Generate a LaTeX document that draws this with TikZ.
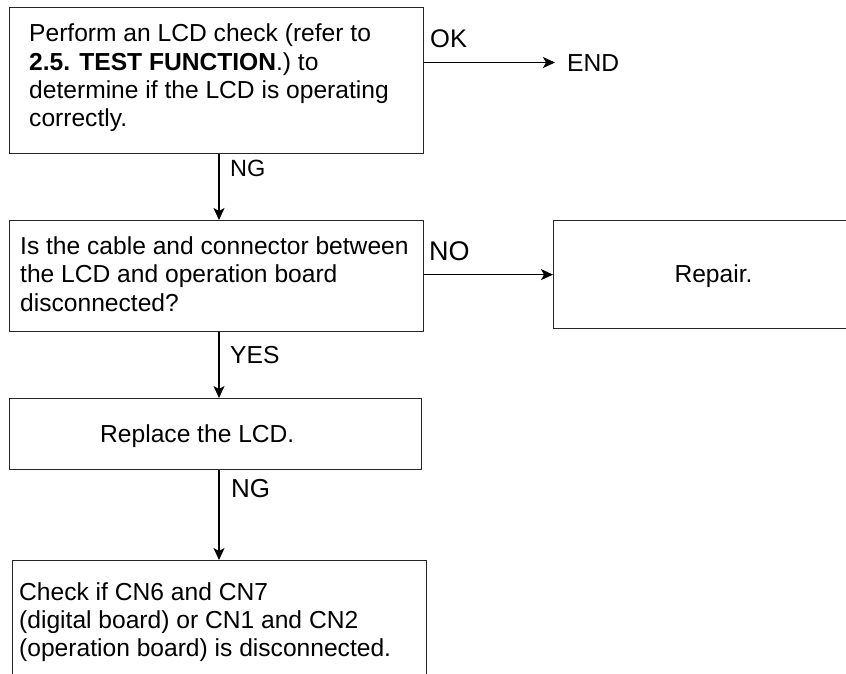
\documentclass[tikz,border=0pt]{standalone}
\usepackage{fontspec}
\setmainfont{Liberation Sans}
\usetikzlibrary{arrows.meta}
\begin{document}
\begin{tikzpicture}[x=1pt,y=-1pt,
  box/.style={draw=black!85,line width=1.2pt,rectangle,inner sep=0pt,anchor=north west},
  txt/.style={font=\fontsize{24.6}{28.3}\selectfont,align=left,inner sep=0pt,anchor=north west},
  lbl/.style={font=\fontsize{24.6}{28.3}\selectfont,inner sep=0pt,anchor=base west},
  flow/.style={line width=1.2pt,-{Stealth[length=12pt,width=11pt,inset=3pt]}}]
\useasboundingbox (0,0) rectangle (846,673);
\clip (0,0) rectangle (846,673);

% process boxes
\node[box,minimum width=414pt,minimum height=146pt] (b1) at (9,7) {};
\node[box,minimum width=414pt,minimum height=111pt] (b2) at (9,220) {};
\node[box,minimum width=412pt,minimum height=71pt] (b3) at (9,398) {};
\node[box,minimum width=414pt,minimum height=160pt] (b4) at (12,560) {};
\node[box,minimum width=321pt,minimum height=108pt] (rep) at (553,220) {};

% box texts
\node[txt] (t1) at (29,23.8) {Perform an LCD check (refer to\\
  \textbf{2.5. TEST FUNCTION}.) to\\
  determine if the LCD is operating\\
  correctly.};
\node[txt] (t2) at (20,236.4) {Is the cable and connector between\\
  the LCD and operation board\\
  disconnected?};
\node[lbl] (t3) at (100,442) {Replace the LCD.};
\node[txt] (t4) at (19,582) {Check if CN6 and CN7\\
  (digital board) or CN1 and CN2\\
  (operation board) is disconnected.};
\node[lbl,anchor=base] (t5) at (713.5,282) {Repair.};

% branch labels
\node[lbl,font=\fontsize{25.5}{28}\selectfont] (ok) at (430,47.3) {OK};
\node[lbl] (end) at (567,71.5) {END};
\node[lbl,font=\fontsize{23.5}{28}\selectfont] (ng1) at (230,176.7) {NG};
\node[lbl,font=\fontsize{27}{28}\selectfont] (no) at (429,260) {NO};
\node[lbl] (yes) at (230,363) {YES};
\node[lbl,font=\fontsize{26}{28}\selectfont] (ng2) at (231,497) {NG};

% connectors
\coordinate (spine) at (219,0);
\coordinate (okrow) at (0,62.5);
\draw[flow] (b1.south -| spine) -- (b2.north -| spine);
\draw[flow] (b2.south -| spine) -- (b3.north -| spine);
\draw[flow] (b3.south -| spine) -- (b4.north -| spine);
\draw[flow,shorten >=12pt] (b1.east |- okrow) -- (end.west |- okrow);
\draw[flow] (b2.east |- rep.west) -- (rep.west);
\end{tikzpicture}
\end{document}
